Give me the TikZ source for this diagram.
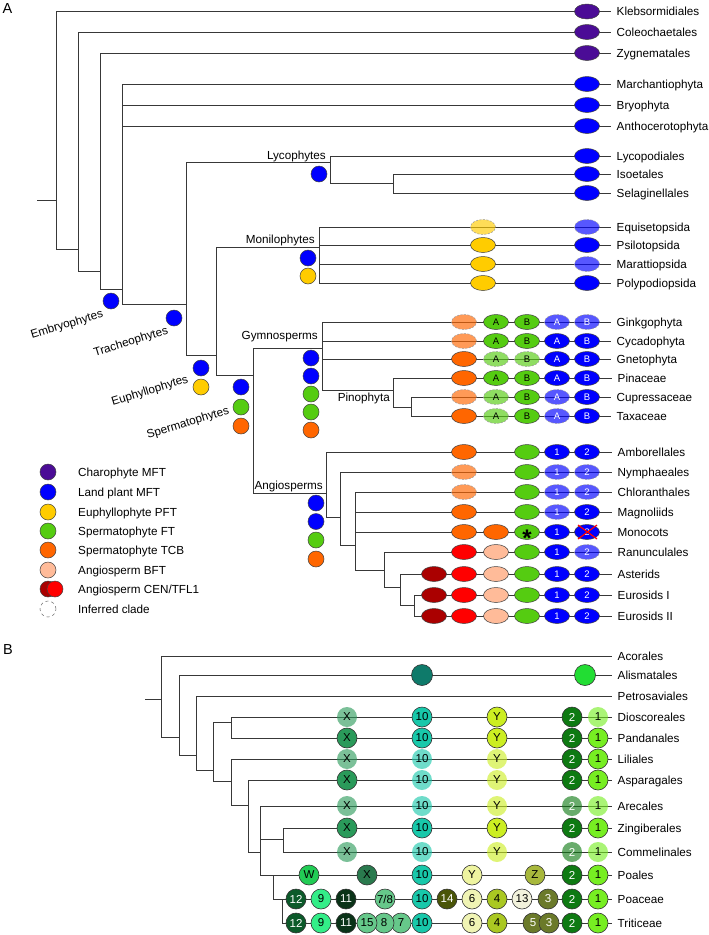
\documentclass[tikz,border=0pt]{standalone}
\usepackage{fontspec}
\setmainfont{Liberation Sans}
\usetikzlibrary{shapes.geometric}
\definecolor{cpur}{HTML}{4B0C96}
\definecolor{cblu}{HTML}{0000FF}
\definecolor{cyel}{HTML}{FFCC00}
\definecolor{cgrn}{HTML}{55CC11}
\definecolor{corg}{HTML}{FF6600}
\definecolor{cbft}{HTML}{FFBB99}
\definecolor{cred}{HTML}{FF0000}
\definecolor{cdrd}{HTML}{AA0000}
\definecolor{cX}{HTML}{2A9A5A}
\definecolor{cT}{HTML}{18C8AA}
\definecolor{cY}{HTML}{CCEE22}
\definecolor{cTw}{HTML}{0E7A12}
\definecolor{cO}{HTML}{77EE22}
\definecolor{cAT}{HTML}{0E7A6A}
\definecolor{cAG}{HTML}{22DD33}
\definecolor{cW}{HTML}{22CC55}
\definecolor{cXd}{HTML}{2A7A4E}
\definecolor{cYp}{HTML}{EEF4A0}
\definecolor{cZ}{HTML}{A8B83C}
\definecolor{cTwelve}{HTML}{0C5A2A}
\definecolor{cNine}{HTML}{33EE88}
\definecolor{cEleven}{HTML}{0A3318}
\definecolor{cSev}{HTML}{66C88A}
\definecolor{cFourteen}{HTML}{4A5508}
\definecolor{cSix}{HTML}{F0F4B4}
\definecolor{cFour}{HTML}{AAC822}
\definecolor{cThirteen}{HTML}{F2F2DC}
\definecolor{cThree}{HTML}{6B7A2A}
\newcommand\lblfont{\fontsize{11.7}{13}\selectfont}
\newcommand\celfont{\fontsize{9.5}{10}\selectfont}
\newcommand\bcfont{\fontsize{11.5}{12}\selectfont}
\newcommand\cel[4]{\node[#1] (e#2x#3) at (#2,#3) {#4};}
\newcommand\bcel[4]{\node[#1] (b#2x#3) at (#2,#3) {#4};}
\tikzset{
 edge/.style={draw=black!78, line width=0.9pt},
 leaf/.style={anchor=west, inner xsep=5.5pt, inner ysep=0pt, text height=8.4pt, text depth=0pt, font=\lblfont},
 legt/.style={anchor=west, inner sep=0pt, text height=8.4pt, text depth=0pt, font=\lblfont},
 clade/.style={anchor=base east, inner sep=0pt, font=\lblfont},
 rclade/.style={inner sep=0pt, font=\lblfont, rotate=17},
 el/.style={ellipse, minimum width=25pt, minimum height=15pt, inner sep=0pt, draw=black!75, line width=0.5pt, font=\celfont},
 lt/.style={fill opacity=0.66, text opacity=1, draw=black!40, dashed, dash pattern=on 2pt off 1.5pt},
 pur/.style={el, fill=cpur},
 blu/.style={el, fill=cblu, text=white},
 yel/.style={el, fill=cyel},
 grn/.style={el, fill=cgrn},
 org/.style={el, fill=corg},
 bft/.style={el, fill=cbft},
 rdd/.style={el, fill=cred},
 drd/.style={el, fill=cdrd},
 cir/.style={circle, minimum size=16pt, inner sep=0pt, draw=black!75, line width=0.5pt},
 bc/.style={circle, minimum size=20pt, inner sep=0pt, draw=black!80, line width=0.6pt, font=\bcfont},
 faded/.style={fill opacity=0.62, text opacity=1, draw=none},
 bX/.style={bc, fill=cX},
 bT/.style={bc, fill=cT},
 bY/.style={bc, fill=cY},
 bTw/.style={bc, fill=cTw, text=white},
 bO/.style={bc, fill=cO},
}
\begin{document}
\begin{tikzpicture}[x=1pt,y=-1pt]
\useasboundingbox[fill=white] (0,0) rectangle (709,935);
% panel labels
\node[font=\fontsize{14.5}{15}\selectfont, inner sep=0pt] (pA) at (7.5,8.5) {A};
\node[font=\fontsize{14.5}{15}\selectfont, inner sep=0pt] (pB) at (8,650) {B};
% ---------------- Panel A leaves
\node[leaf] (kleb) at (611,11.5) {Klebsormidiales};
\node[leaf] (cole) at (611,32) {Coleochaetales};
\node[leaf] (zygn) at (611,53) {Zygnematales};
\node[leaf] (marc) at (611,84) {Marchantiophyta};
\node[leaf] (bryo) at (611,105) {Bryophyta};
\node[leaf] (anth) at (611,126) {Anthocerotophyta};
\node[leaf] (lycp) at (611,156) {Lycopodiales};
\node[leaf] (isoe) at (611,174) {Isoetales};
\node[leaf] (sela) at (611,193) {Selaginellales};
\node[leaf] (equi) at (611,227) {Equisetopsida};
\node[leaf] (psil) at (611,245) {Psilotopsida};
\node[leaf] (mara) at (611,264) {Marattiopsida};
\node[leaf] (poly) at (611,283) {Polypodiopsida};
\node[leaf] (gink) at (611,322) {Ginkgophyta};
\node[leaf] (cyca) at (611,341) {Cycadophyta};
\node[leaf] (gnet) at (611,359) {Gnetophyta};
\node[leaf] (pina) at (612,378) {Pinaceae};
\node[leaf] (cupr) at (611,397) {Cupressaceae};
\node[leaf] (taxa) at (611,416) {Taxaceae};
\node[leaf] (ambo) at (612,452) {Amborellales};
\node[leaf] (nymp) at (612,472) {Nymphaeales};
\node[leaf] (chlo) at (612,492) {Chloranthales};
\node[leaf] (magn) at (612,512) {Magnoliids};
\node[leaf] (mono) at (612,532) {Monocots};
\node[leaf] (ranu) at (612,552) {Ranunculales};
\node[leaf] (aste) at (612,574) {Asterids};
\node[leaf] (eur1) at (612,595) {Eurosids I};
\node[leaf] (eur2) at (612,616) {Eurosids II};
% internal nodes A
\coordinate (r0) at (37,200);
\coordinate (a1) at (56,200);
\coordinate (a2) at (78,249);
\coordinate (a3) at (100,271);
\coordinate (a4) at (122,289);
\coordinate (a5) at (186,304);
\coordinate (aly) at (330,162);
\coordinate (ais) at (393,183);
\coordinate (a6) at (216,355);
\coordinate (amo) at (319,247);
\coordinate (a7) at (253,375);
\coordinate (agy) at (322,348);
\coordinate (api) at (393,390);
\coordinate (acu) at (411,407);
\coordinate (aan) at (326,493);
\coordinate (an1) at (340,517);
\coordinate (an2) at (355,545);
\coordinate (aeu) at (384,570);
\coordinate (ae1) at (400,587);
\coordinate (ae2) at (414,605);
\draw[edge] (r0) -- (a1);
\draw[edge] (a1) |- (kleb.west); \draw[edge] (a1) |- (a2);
\draw[edge] (a2) |- (cole.west); \draw[edge] (a2) |- (a3);
\draw[edge] (a3) |- (zygn.west); \draw[edge] (a3) |- (a4);
\draw[edge] (a4) |- (marc.west); \draw[edge] (a4) |- (bryo.west); \draw[edge] (a4) |- (anth.west); \draw[edge] (a4) |- (a5);
\draw[edge] (a5) |- (aly); \draw[edge] (a5) |- (a6);
\draw[edge] (aly) |- (lycp.west); \draw[edge] (aly) |- (ais);
\draw[edge] (ais) |- (isoe.west); \draw[edge] (ais) |- (sela.west);
\draw[edge] (a6) |- (amo); \draw[edge] (a6) |- (a7);
\draw[edge] (amo) |- (equi.west); \draw[edge] (amo) |- (psil.west); \draw[edge] (amo) |- (mara.west); \draw[edge] (amo) |- (poly.west);
\draw[edge] (a7) |- (agy); \draw[edge] (a7) |- (aan);
\draw[edge] (agy) |- (gink.west); \draw[edge] (agy) |- (cyca.west); \draw[edge] (agy) |- (gnet.west); \draw[edge] (agy) |- (api);
\draw[edge] (api) |- (pina.west); \draw[edge] (api) |- (acu);
\draw[edge] (acu) |- (cupr.west); \draw[edge] (acu) |- (taxa.west);
\draw[edge] (aan) |- (ambo.west); \draw[edge] (aan) |- (an1);
\draw[edge] (an1) |- (nymp.west); \draw[edge] (an1) |- (an2);
\draw[edge] (an2) |- (chlo.west); \draw[edge] (an2) |- (magn.west); \draw[edge] (an2) |- (mono.west); \draw[edge] (an2) |- (aeu);
\draw[edge] (aeu) |- (ranu.west); \draw[edge] (aeu) |- (ae1);
\draw[edge] (ae1) |- (aste.west); \draw[edge] (ae1) |- (ae2);
\draw[edge] (ae2) |- (eur1.west); \draw[edge] (ae2) |- (eur2.west);
% clade labels
\node[clade] (lLyc) at (326,159.5) {Lycophytes};
\node[clade] (lMon) at (315,243) {Monilophytes};
\node[clade] (lGym) at (318,339) {Gymnosperms};
\node[clade] (lPin) at (390,401) {Pinophyta};
\node[clade] (lAng) at (323,489) {Angiosperms};
\node[rclade] (lEmb) at (67,325) {Embryophytes};
\node[rclade] (lTra) at (131,342) {Tracheophytes};
\node[rclade] (lEup) at (150,391) {Euphyllophytes};
\node[rclade] (lSpe) at (188,423) {Spermatophytes};
% clade circles
\node[cir, fill=cblu] (kEmb) at (111,301) {};
\node[cir, fill=cblu] (kTra) at (174,318) {};
\node[cir, fill=cblu] (kLyc) at (319,174) {};
\node[cir, fill=cblu] (kMon1) at (308,258) {};
\node[cir, fill=cyel] (kMon2) at (308,276) {};
\node[cir, fill=cblu] (kEup1) at (201,368) {};
\node[cir, fill=cyel] (kEup2) at (201,387) {};
\node[cir, fill=cblu] (kSpe1) at (241,387) {};
\node[cir, fill=cgrn] (kSpe2) at (241,407) {};
\node[cir, fill=corg] (kSpe3) at (241,426) {};
\node[cir, fill=cblu] (kGym1) at (311,358) {};
\node[cir, fill=cblu] (kGym2) at (311,376) {};
\node[cir, fill=cgrn] (kGym3) at (311,394) {};
\node[cir, fill=cgrn] (kGym4) at (311,412) {};
\node[cir, fill=corg] (kGym5) at (311,430) {};
\node[cir, fill=cblu] (kAng1) at (316,503) {};
\node[cir, fill=cblu] (kAng2) at (316,521.5) {};
\node[cir, fill=cgrn] (kAng3) at (316,540) {};
\node[cir, fill=corg] (kAng4) at (316,559) {};
% ellipses
\cel{pur}{587}{11.5}{}
\cel{pur}{587}{32}{}
\cel{pur}{587}{53}{}
\cel{blu}{587}{84}{}
\cel{blu}{587}{105}{}
\cel{blu}{587}{126}{}
\cel{blu}{587}{156}{}
\cel{blu}{587}{174}{}
\cel{blu}{587}{193}{}
\cel{yel,lt}{483}{227}{} \cel{blu,lt}{587}{227}{}
\cel{yel}{483}{245}{} \cel{blu}{587}{245}{}
\cel{yel}{483}{264}{} \cel{blu,lt}{587}{264}{}
\cel{yel}{483}{283}{} \cel{blu}{587}{283}{}
\cel{org,lt}{464}{322}{} \cel{grn}{496}{322}{A} \cel{grn}{527}{322}{B} \cel{blu,lt}{557}{322}{A} \cel{blu,lt}{587}{322}{B}
\cel{org,lt}{464}{341}{} \cel{grn}{496}{341}{A} \cel{grn}{527}{341}{B} \cel{blu}{557}{341}{A} \cel{blu}{587}{341}{B}
\cel{org}{464}{359}{} \cel{grn,lt}{496}{359}{A} \cel{grn,lt}{527}{359}{B} \cel{blu}{557}{359}{A} \cel{blu}{587}{359}{B}
\cel{org}{464}{378}{} \cel{grn}{496}{378}{A} \cel{grn}{527}{378}{B} \cel{blu}{557}{378}{A} \cel{blu}{587}{378}{B}
\cel{org,lt}{464}{397}{} \cel{grn,lt}{496}{397}{A} \cel{grn}{527}{397}{B} \cel{blu,lt}{557}{397}{A} \cel{blu}{587}{397}{B}
\cel{org}{464}{416}{} \cel{grn,lt}{496}{416}{A} \cel{grn}{527}{416}{B} \cel{blu,lt}{557}{416}{A} \cel{blu}{587}{416}{B}
\cel{org}{464}{452}{} \cel{grn}{527}{452}{} \cel{blu}{557}{452}{1} \cel{blu}{587}{452}{2}
\cel{org,lt}{464}{472}{} \cel{grn}{527}{472}{} \cel{blu,lt}{557}{472}{1} \cel{blu,lt}{587}{472}{2}
\cel{org,lt}{464}{492}{} \cel{grn}{527}{492}{} \cel{blu,lt}{557}{492}{1} \cel{blu,lt}{587}{492}{2}
\cel{org}{464}{512}{} \cel{grn}{527}{512}{} \cel{blu,lt}{557}{512}{1} \cel{blu}{587}{512}{2}
\cel{org}{464}{532}{} \cel{org}{496}{532}{} \cel{grn}{527}{532}{} \cel{blu}{557}{532}{1} \cel{blu}{587}{532}{2}
\node[inner sep=0pt, font=\fontsize{24}{24}\selectfont\bfseries] (ast) at (527,538) {*};
\draw[cred, line width=1.2pt] (578,525) -- (597,539) (578,539) -- (597,525);
\cel{rdd}{464}{552}{} \cel{bft}{496}{552}{} \cel{grn}{527}{552}{} \cel{blu}{557}{552}{1} \cel{blu,lt}{587}{552}{2}
\cel{drd}{434}{574}{} \cel{rdd}{464}{574}{} \cel{bft}{496}{574}{} \cel{grn}{527}{574}{} \cel{blu}{557}{574}{1} \cel{blu}{587}{574}{2}
\cel{drd}{434}{595}{} \cel{rdd}{464}{595}{} \cel{bft}{496}{595}{} \cel{grn}{527}{595}{} \cel{blu}{557}{595}{1} \cel{blu}{587}{595}{2}
\cel{drd}{434}{616}{} \cel{rdd}{464}{616}{} \cel{bft}{496}{616}{} \cel{grn}{527}{616}{} \cel{blu}{557}{616}{1} \cel{blu}{587}{616}{2}
% legend
\node[cir, fill=cpur] (g1) at (48,472) {}; \node[legt] (t1) at (78,472) {Charophyte MFT};
\node[cir, fill=cblu] (g2) at (48,492) {}; \node[legt] (t2) at (78,492) {Land plant MFT};
\node[cir, fill=cyel] (g3) at (48,512) {}; \node[legt] (t3) at (78,512) {Euphyllophyte PFT};
\node[cir, fill=cgrn] (g4) at (48,531) {}; \node[legt] (t4) at (78,531) {Spermatophyte FT};
\node[cir, fill=corg] (g5) at (48,550) {}; \node[legt] (t5) at (78,550) {Spermatophyte TCB};
\node[cir, fill=cbft] (g6) at (48,570) {}; \node[legt] (t6) at (78,570) {Angiosperm BFT};
\node[cir, fill=cdrd] (g7a) at (48,589) {}; \node[cir, fill=cred] (g7b) at (55,589) {}; \node[legt] (t7) at (78,589) {Angiosperm CEN/TFL1};
\node[cir, draw=black!60, dashed] (g8) at (48,609) {}; \node[legt] (t8) at (78,609) {Inferred clade};
% ---------------- Panel B leaves
\node[leaf] (acor) at (612,656) {Acorales};
\node[leaf] (alis) at (612,675) {Alismatales};
\node[leaf] (petr) at (612,696) {Petrosaviales};
\node[leaf] (dios) at (612,717) {Dioscoreales};
\node[leaf] (pand) at (612,738) {Pandanales};
\node[leaf] (lili) at (612,759) {Liliales};
\node[leaf] (aspa) at (612,780) {Asparagales};
\node[leaf] (arec) at (612,806) {Arecales};
\node[leaf] (zing) at (612,828) {Zingiberales};
\node[leaf] (comm) at (612,852) {Commelinales};
\node[leaf] (poal) at (612,875) {Poales};
\node[leaf] (poac) at (612,899) {Poaceae};
\node[leaf] (trit) at (612,923) {Triticeae};
\coordinate (br0) at (145,699);
\coordinate (b1) at (161,699);
\coordinate (b2) at (179,737);
\coordinate (b3) at (196,755);
\coordinate (b4) at (213,770);
\coordinate (bdp) at (231,722);
\coordinate (bl) at (231,781);
\coordinate (b5) at (248,805);
\coordinate (b6) at (260,852);
\coordinate (bzc) at (283,839);
\coordinate (bp) at (273,875);
\coordinate (bpt) at (282,899);
\draw[edge] (br0) -- (b1);
\draw[edge] (b1) |- (acor.west); \draw[edge] (b1) |- (b2);
\draw[edge] (b2) |- (alis.west); \draw[edge] (b2) |- (b3);
\draw[edge] (b3) |- (petr.west); \draw[edge] (b3) |- (b4);
\draw[edge] (b4) |- (bdp); \draw[edge] (b4) |- (bl);
\draw[edge] (bdp) |- (dios.west); \draw[edge] (bdp) |- (pand.west);
\draw[edge] (bl) |- (lili.west); \draw[edge] (bl) |- (b5);
\draw[edge] (b5) |- (aspa.west); \draw[edge] (b5) |- (b6);
\draw[edge] (b6) |- (arec.west); \draw[edge] (b6) |- (bzc); \draw[edge] (b6) |- (bp);
\draw[edge] (bzc) |- (zing.west); \draw[edge] (bzc) |- (comm.west);
\draw[edge] (bp) |- (poal.west); \draw[edge] (bp) |- (bpt);
\draw[edge] (bpt) |- (poac.west); \draw[edge] (bpt) |- (trit.west);
% B circles
\node[bc, minimum size=21pt, fill=cAT] (alT) at (422,675) {};
\node[bc, minimum size=21pt, fill=cAG] (alG) at (585,675) {};
\bcel{bX,faded}{347}{717}{X} \bcel{bT}{422}{717}{10} \bcel{bY}{497}{717}{Y} \bcel{bTw}{572}{717}{2} \bcel{bO,faded}{598}{717}{1}
\bcel{bX}{347}{738}{X} \bcel{bT}{422}{738}{10} \bcel{bY}{497}{738}{Y} \bcel{bTw}{572}{738}{2} \bcel{bO}{598}{738}{1}
\bcel{bX,faded}{347}{759}{X} \bcel{bT,faded}{422}{759}{10} \bcel{bY,faded}{497}{759}{Y} \bcel{bTw}{572}{759}{2} \bcel{bO}{598}{759}{1}
\bcel{bX}{347}{780}{X} \bcel{bT,faded}{422}{780}{10} \bcel{bY,faded}{497}{780}{Y} \bcel{bTw}{572}{780}{2} \bcel{bO}{598}{780}{1}
\bcel{bX,faded}{347}{806}{X} \bcel{bT,faded}{422}{806}{10} \bcel{bY,faded}{497}{806}{Y} \bcel{bTw,faded}{572}{806}{2} \bcel{bO,faded}{598}{806}{1}
\bcel{bX}{347}{828}{X} \bcel{bT}{422}{828}{10} \bcel{bY}{497}{828}{Y} \bcel{bTw}{572}{828}{2} \bcel{bO}{598}{828}{1}
\bcel{bX,faded}{347}{852}{X} \bcel{bT,faded}{422}{852}{10} \bcel{bY,faded}{497}{852}{Y} \bcel{bTw,faded}{572}{852}{2} \bcel{bO,faded}{598}{852}{1}
% Poales
\bcel{bc,fill=cW}{309}{875}{W} \bcel{bc,fill=cXd}{367}{875}{X} \bcel{bT}{422}{875}{10} \bcel{bc,fill=cYp}{472}{875}{Y} \bcel{bc,fill=cZ}{535}{875}{Z} \bcel{bTw}{572}{875}{2} \bcel{bO}{598}{875}{1}
% Poaceae
\bcel{bc,fill=cTwelve,text=white}{296}{899}{12} \bcel{bc,fill=cNine}{321}{899}{9} \bcel{bc,fill=cEleven,text=white}{346}{899}{11} \bcel{bc,fill=cSev}{385}{899}{7/8} \bcel{bT}{422}{899}{10} \bcel{bc,fill=cFourteen,text=white}{447}{899}{14} \bcel{bc,fill=cSix}{472}{899}{6} \bcel{bc,fill=cFour}{497}{899}{4} \bcel{bc,fill=cThirteen}{522}{899}{13} \bcel{bc,fill=cThree,text=white}{548}{899}{3} \bcel{bTw}{572}{899}{2} \bcel{bO}{598}{899}{1}
% Triticeae
\bcel{bc,fill=cTwelve,text=white}{296}{923}{12} \bcel{bc,fill=cNine}{321}{923}{9} \bcel{bc,fill=cEleven,text=white}{346}{923}{11} \bcel{bc,fill=cSev}{401}{923}{7} \bcel{bc,fill=cSev}{384}{923}{8} \bcel{bc,fill=cSev}{367}{923}{15} \bcel{bT}{422}{923}{10} \bcel{bc,fill=cSix}{472}{923}{6} \bcel{bc,fill=cFour}{497}{923}{4} \bcel{bc,fill=cThree,text=white}{533}{923}{5} \bcel{bc,fill=cThree,text=white}{549}{923}{3} \bcel{bTw}{572}{923}{2} \bcel{bO}{598}{923}{1}
\end{tikzpicture}
\end{document}
